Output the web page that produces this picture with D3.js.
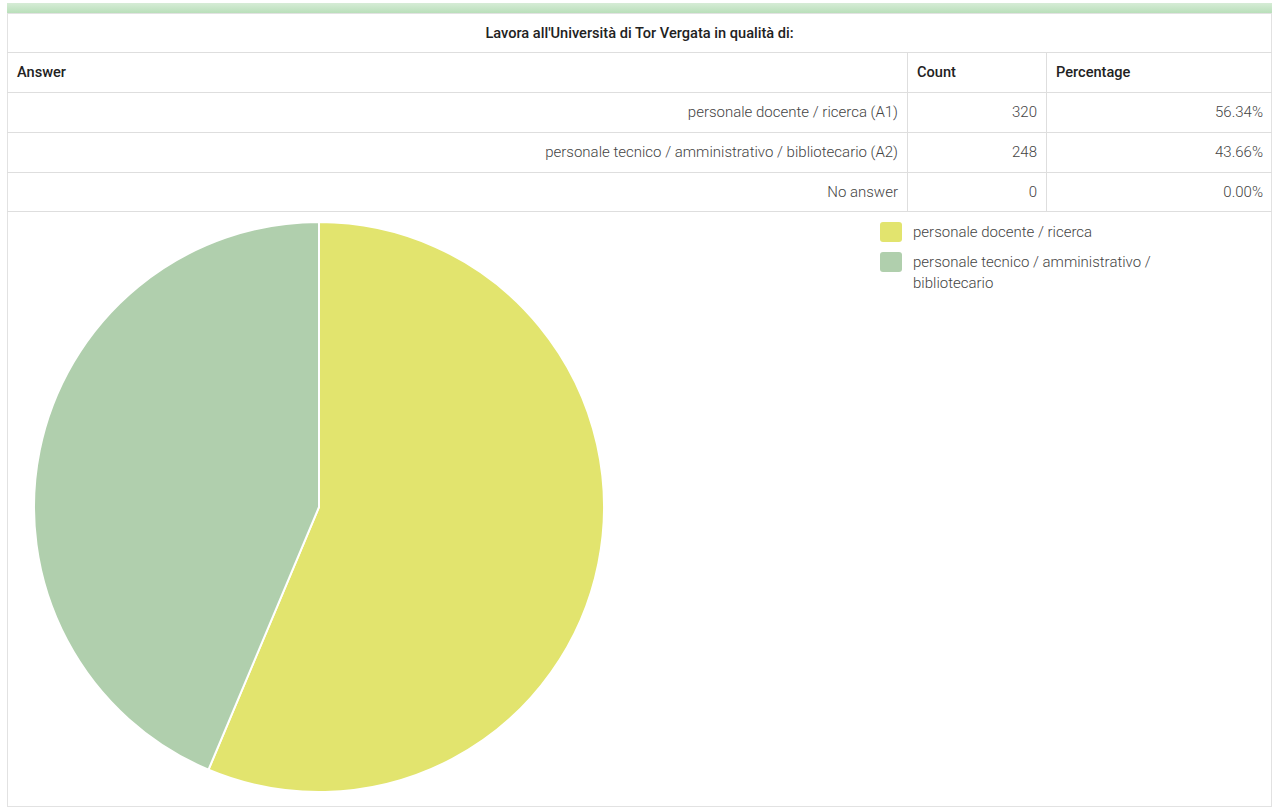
<!DOCTYPE html>
<html><head><meta charset="utf-8">
<script src="https://cdn.jsdelivr.net/npm/d3@7"></script>
<style>
html,body{margin:0;padding:0;background:#fff;}
svg{display:block;font-family:Roboto, "Open Sans", sans-serif;}
</style></head>
<body><svg id="c" width="1277" height="809"></svg>
<script>
const title = "Lavora all'Università di Tor Vergata in qualità di:";
const headers = ["Answer", "Count", "Percentage"];
const answers = ["personale docente / ricerca (A1)", "personale tecnico / amministrativo / bibliotecario (A2)", "No answer"];
const counts = [320, 248, 0];
const percentages = ["56.34%", "43.66%", "0.00%"];
const pieLabels = ["personale docente / ricerca", "personale tecnico / amministrativo / bibliotecario"];
const pieValues = [320, 248];
const pieColors = ["#e2e46e", "#b0cfad"];

const svg = d3.select("#c");
const L = 7, R = 1272, colX = [7, 907, 1046, 1272];
const rowY = [13, 52, 92, 132, 172, 211];

// top green bar
const grad = svg.append("defs").append("linearGradient").attr("id","g").attr("x1",0).attr("x2",0).attr("y1",0).attr("y2",1);
grad.append("stop").attr("offset",0).attr("stop-color","#d6ecd6");
grad.append("stop").attr("offset",1).attr("stop-color","#b9dfba");
svg.append("rect").attr("x",L).attr("y",3).attr("width",R-L).attr("height",10).attr("fill","url(#g)");

// outer border
svg.append("rect").attr("x",L+0.5).attr("y",13.5).attr("width",R-L-1).attr("height",793).attr("fill","#fff").attr("stroke","#e2e2e2");

const lc = "#dedede";
svg.selectAll("line.h").data(rowY.slice(1)).join("line").attr("class","h")
  .attr("x1",L).attr("x2",R).attr("y1",d=>d+0.5).attr("y2",d=>d+0.5).attr("stroke",lc);
svg.selectAll("line.v").data(colX.slice(1,3)).join("line").attr("class","v")
  .attr("x1",d=>d+0.5).attr("x2",d=>d+0.5).attr("y1",rowY[1]).attr("y2",rowY[5]).attr("stroke",lc);

// title
svg.append("text").attr("x",(L+R)/2).attr("y",(rowY[0]+rowY[1])/2+5).attr("text-anchor","middle")
  .attr("font-size",14.6).attr("font-weight",500).attr("fill","#222").text(title);
// headers
svg.selectAll("text.hd").data(headers).join("text").attr("class","hd")
  .attr("x",(d,i)=>colX[i]+10).attr("y",(rowY[1]+rowY[2])/2+5)
  .attr("font-size",14.6).attr("font-weight",500).attr("fill","#222").text(d=>d);

// body rows
const rows = answers.map((a,i)=>[a, String(counts[i]), percentages[i]]);
rows.forEach((r,i)=>{
  const y = (rowY[i+2]+rowY[i+3])/2+5;
  r.forEach((t,j)=>{
    svg.append("text").attr("x",colX[j+1]-9).attr("y",y).attr("text-anchor","end")
      .attr("font-size",15).attr("font-weight",300).attr("fill","#444").text(t);
  });
});

// pie
const cx = 319, cy = 507, rad = 285;
const pie = d3.pie().sort(null).value(d=>d)(pieValues);
const arc = d3.arc().innerRadius(0).outerRadius(rad);
const color = d3.scaleOrdinal().domain(pieLabels).range(pieColors);
svg.append("g").attr("transform",`translate(${cx},${cy})`)
  .selectAll("path").data(pie).join("path")
  .attr("d",arc).attr("fill",(d,i)=>color(pieLabels[i])).attr("stroke","#fff").attr("stroke-width",2);

// legend
const lg = svg.append("g").attr("transform","translate(880,222)");
const legLines = [["personale docente / ricerca"],["personale tecnico / amministrativo /","bibliotecario"]];
const legY = [0, 30];
pieLabels.forEach((lab,i)=>{
  lg.append("rect").attr("x",0).attr("y",legY[i]).attr("width",22).attr("height",20).attr("rx",3)
    .attr("fill",color(lab));
  const t = lg.append("text").attr("x",33).attr("y",legY[i]+15).attr("font-size",15).attr("font-weight",300).attr("fill","#444");
  legLines[i].forEach((ln,k)=>t.append("tspan").attr("x",33).attr("dy",k?21:0).text(ln));
});
</script></body></html>
